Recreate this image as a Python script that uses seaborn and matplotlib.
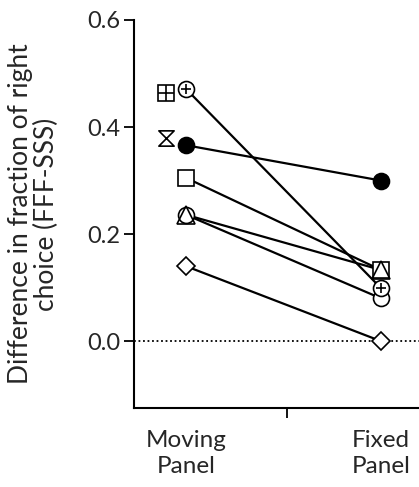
import numpy as np
import pandas as pd
import matplotlib
matplotlib.use("Agg")
import matplotlib.pyplot as plt
from matplotlib.path import Path
import seaborn as sns

sns.set_style("ticks")
plt.rcParams['font.family'] = ['Lato', 'DejaVu Sans']

# Conditions on the x axis
conditions = ["Moving\nPanel", "Fixed\nPanel"]

# Per-subject difference in fraction of right choice (FFF-SSS)
subjects = ["S1", "S2", "S3", "S4", "S5", "S6"]
moving = [0.471, 0.366, 0.305, 0.236, 0.236, 0.140]
fixed = [0.099, 0.300, 0.133, 0.133, 0.080, 0.000]

# Subjects measured only in the moving-panel condition
extra_subjects = ["S7", "S8"]
extra_moving = [0.464, 0.379]

hourglass = Path([(-1, 1), (1, 1), (-1, -1), (1, -1), (-1, 1)],
                 [Path.MOVETO, Path.LINETO, Path.LINETO, Path.LINETO, Path.CLOSEPOLY])

styles = {
    "S1": dict(marker="o", overlay="+"),
    "S2": dict(marker="o", fill="black"),
    "S3": dict(marker="s", ms=11),
    "S4": dict(marker="^", ms=13, fill="none"),
    "S5": dict(marker="o"),
    "S6": dict(marker="D", ms=9),
    "S7": dict(marker="s", ms=11, overlay="+big"),
    "S8": dict(marker=hourglass, ms=11),
}

rows = []
for s, m, f in zip(subjects, moving, fixed):
    rows.append(dict(subject=s, cond=0, value=m))
    rows.append(dict(subject=s, cond=1, value=f))
df = pd.DataFrame(rows)

fig = plt.figure(figsize=(4.19, 4.87), dpi=100)
ax = fig.add_axes([0.32, 0.162, 0.68, 0.797])

# zero reference line
ax.axhline(0, color="black", lw=1.3, ls=(0, (1, 1.5)), zorder=1)

for s in subjects:
    sub = df[df.subject == s]
    sns.lineplot(data=sub, x="cond", y="value", color="black", lw=1.6,
                 ax=ax, zorder=2, legend=False)

def draw_marker(xs, ys, s):
    st = styles[s]
    ms = st.get("ms", 11.5)
    face = st.get("fill", "white")
    ax.plot(xs, ys, ls="none", marker=st["marker"], ms=ms, mfc=face,
            mec="black", mew=1.2, zorder=3)
    ov = st.get("overlay")
    if ov == "+":
        ax.plot(xs, ys, ls="none", marker="+", ms=7, mec="black", mew=1.2, zorder=4)
    elif ov == "+big":
        ax.plot(xs, ys, ls="none", marker="+", ms=ms, mec="black", mew=1.2, zorder=4)

# draw order so overlapping symbols stack like the layered markers
for s in ["S5", "S3", "S4", "S6", "S2", "S1"]:
    sub = df[df.subject == s]
    draw_marker(sub["cond"].values, sub["value"].values, s)

offset = -0.105
for s, v in zip(extra_subjects, extra_moving):
    draw_marker([0 + offset], [v], s)

ax.set_xlim(-0.267, 1.195)
ax.set_ylim(-0.125, 0.6)
ax.set_yticks([0.0, 0.2, 0.4, 0.6])
ax.set_yticklabels(["0.0", "0.2", "0.4", "0.6"])
ax.set_xticks([0, 1])
ax.set_xticklabels(conditions, linespacing=1.3)
ax.set_xticks([0.52], minor=True)
ax.tick_params(axis="x", which="major", length=0, pad=16, labelsize=17.5)
ax.tick_params(axis="x", which="minor", length=7, width=1.3, color="black")
ax.tick_params(axis="y", length=7, width=1.3, labelsize=17, color="black", pad=3)
ax.set_xlabel("")
ax.set_ylabel("Difference in fraction of right\nchoice (FFF-SSS)", fontsize=19,
              labelpad=20, linespacing=1.05)
for side in ["top", "right"]:
    ax.spines[side].set_visible(False)
for side in ["left", "bottom"]:
    ax.spines[side].set_linewidth(1.5)
    ax.spines[side].set_color("black")

fig.savefig("out.png", dpi=100)
